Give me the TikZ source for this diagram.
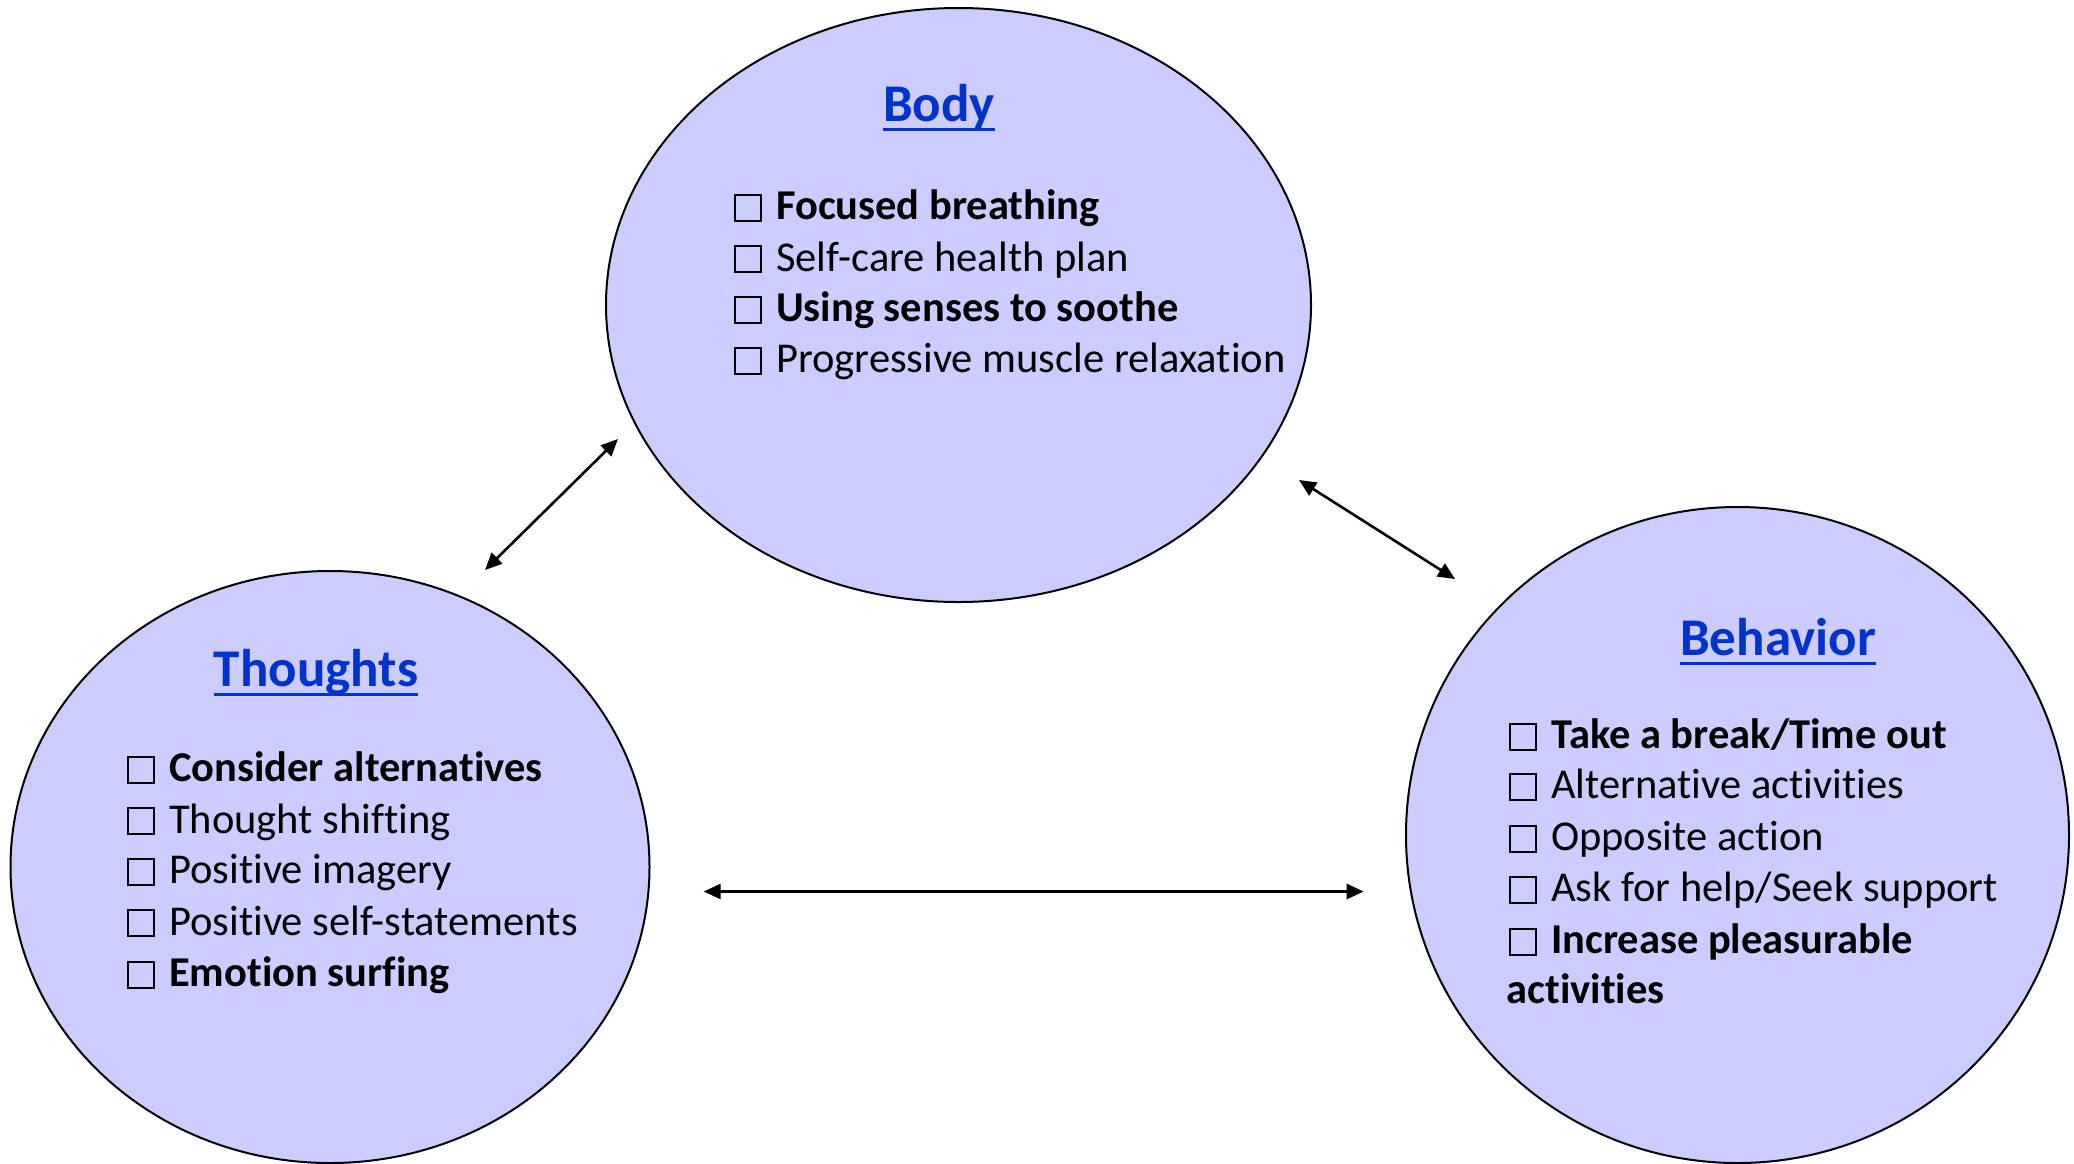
\documentclass[tikz,border=0pt]{standalone}
\usepackage{fontspec}
\setmainfont{Carlito}[Ligatures=NoCommon]
\usetikzlibrary{shapes.geometric,arrows.meta}
\definecolor{bubble}{RGB}{204,204,255}
\definecolor{ttl}{RGB}{0,51,204}
\newcommand\cbx{{\setlength\fboxsep{0pt}\setlength\fboxrule{2pt}\fbox{\rule{0pt}{24pt}\rule{24pt}{0pt}}}\hspace{14pt}}
\tikzset{
  bubblenode/.style={ellipse, draw=black, line width=2pt, fill=bubble, inner sep=0pt},
  titlenode/.style={anchor=base, inner sep=0pt, text=ttl, font=\fontsize{53}{60}\selectfont\bfseries},
  itemnode/.style={anchor=base west, inner sep=0pt, font=\fontsize{42.5}{50}\selectfont},
  ulline/.style={ttl, line width=3.5pt},
  biarrow/.style={line width=2.6pt, {Triangle[length=17pt,width=15pt]}-{Triangle[length=17pt,width=15pt]}}
}
\begin{document}
\begin{tikzpicture}[x=1pt,y=-1pt]
\useasboundingbox (0,0) rectangle (2074,1163);
\clip (0,0) rectangle (2074,1163);
\fill[white] (0,0) rectangle (2074,1163);
% bubbles
\node[bubblenode, minimum width=705pt, minimum height=594pt] (body) at (958.5,305) {};
\node[bubblenode, minimum width=639pt, minimum height=592pt] (thoughts) at (330,867) {};
\node[bubblenode, minimum width=663pt, minimum height=656pt] (behavior) at (1737.5,835) {};
% titles
\node[titlenode] (tbody) at (939,121.5) {Body};
\node[titlenode] (tthoughts) at (316,686.5) {Thoughts};
\node[titlenode] (tbehavior) at (1778,655.5) {Behavior};
\foreach \t in {tbody,tthoughts,tbehavior}
  \draw[ulline] ([yshift=-8pt]\t.base west) -- ([yshift=-8pt]\t.base east);
% body items
\node[itemnode] (b1) at (734,219.5) {\cbx\textbf{Focused breathing}};
\node[itemnode] (b2) at (734,271) {\cbx Self-care health plan};
\node[itemnode] (b3) at (734,321.5) {\cbx\textbf{Using senses to soothe}};
\node[itemnode] (b4) at (734,372.5) {\cbx Progressive muscle relaxation};
% thoughts items
\node[itemnode] (t1) at (127,781.5) {\cbx\textbf{Consider alternatives}};
\node[itemnode] (t2) at (127,833) {\cbx Thought shifting};
\node[itemnode] (t3) at (127,883.5) {\cbx Positive imagery};
\node[itemnode] (t4) at (127,935) {\cbx Positive self-statements};
\node[itemnode] (t5) at (127,986.5) {\cbx\textbf{Emotion surfing}};
% behavior items
\node[itemnode] (h1) at (1509,748.5) {\cbx\textbf{Take a break/Time out}};
\node[itemnode] (h2) at (1509,798.5) {\cbx Alternative activities};
\node[itemnode] (h3) at (1509,850.5) {\cbx Opposite action};
\node[itemnode] (h4) at (1509,901.5) {\cbx Ask for help/Seek support};
\node[itemnode] (h5) at (1509,953.5) {\cbx\textbf{Increase pleasurable}};
\node[itemnode] (h6) at (1506.5,1003.5) {\textbf{activities}};
% arrow ends
\coordinate (a1t) at (485,570);
\coordinate (a1b) at (618,439);
\coordinate (a2b) at (1299,480);
\coordinate (a2h) at (1455,579);
\coordinate (a3t) at (703.7,891.5);
\coordinate (a3h) at (1363.7,891.5);
\draw[biarrow] (a1t) -- (a1b);
\draw[biarrow] (a2b) -- (a2h);
\draw[biarrow] (a3t) -- (a3h);
\end{tikzpicture}
\end{document}
